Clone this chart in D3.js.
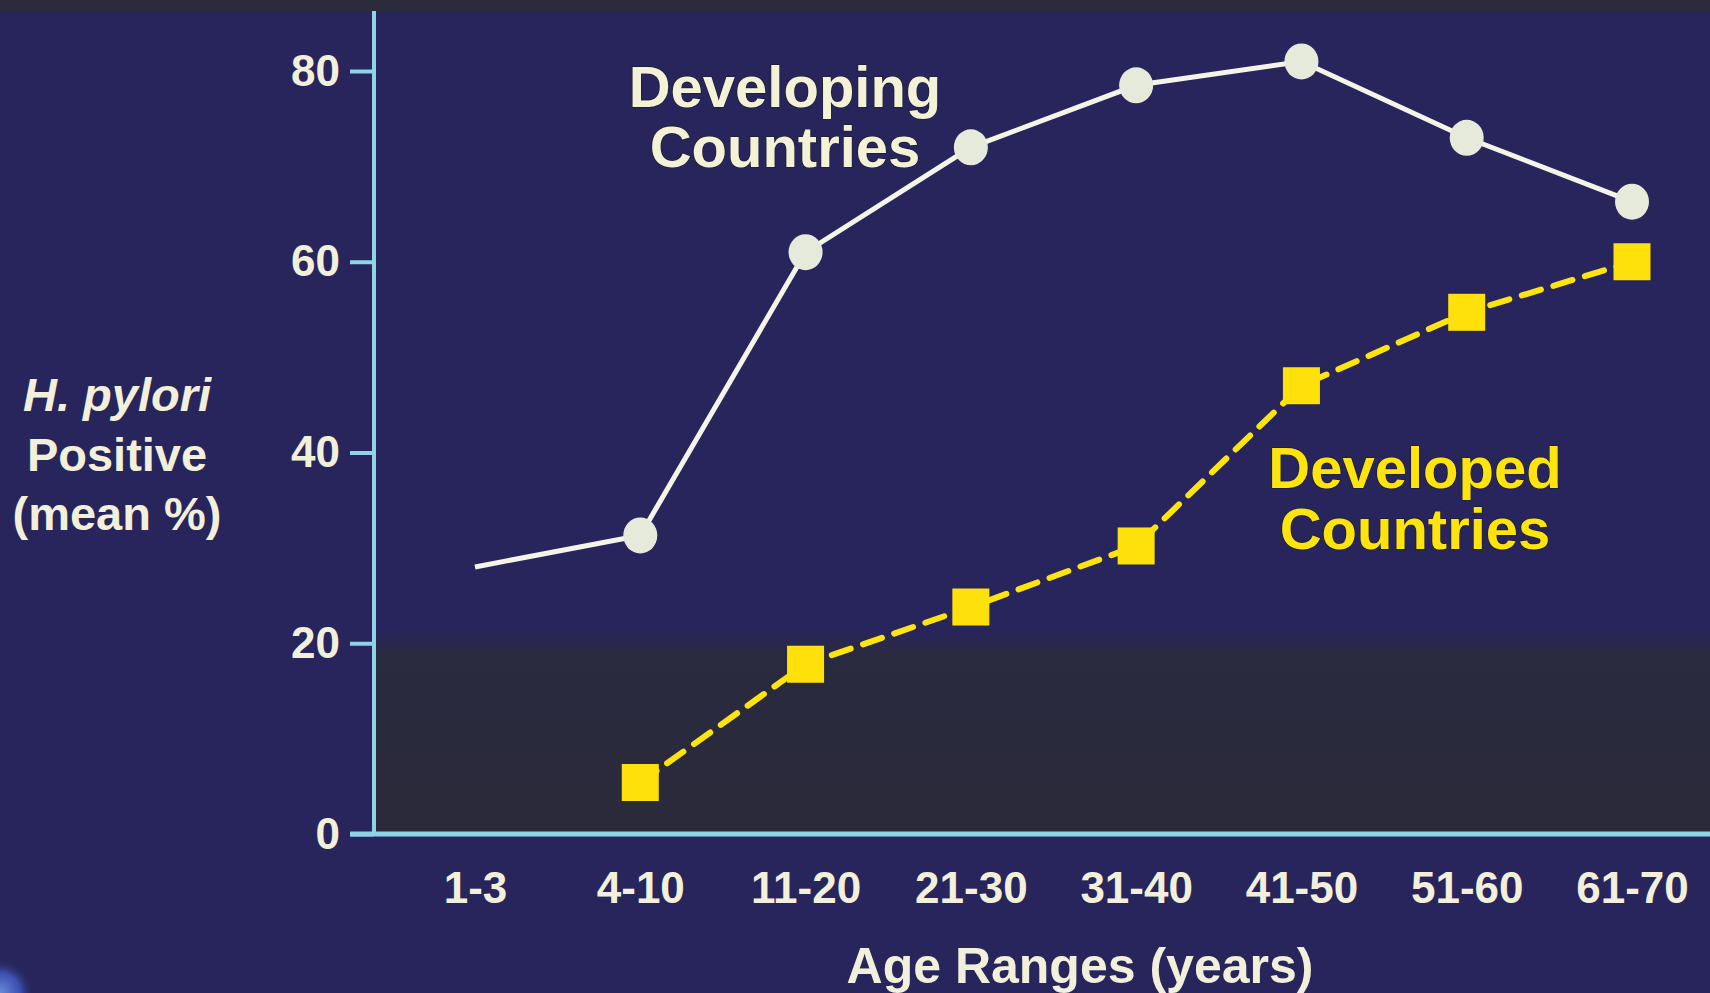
<!DOCTYPE html>
<html>
<head>
<meta charset="utf-8">
<script src="https://cdn.jsdelivr.net/npm/d3@7"></script>
<style>
  html, body { margin: 0; padding: 0; background: #27255c; overflow: hidden; }
  svg { display: block; font-family: "Liberation Sans", Arial, sans-serif; font-weight: bold; }
</style>
</head>
<body>
<svg id="chart" width="1710" height="993"></svg>
<script>
// Chart data
const ageRanges = ["1-3", "4-10", "11-20", "21-30", "31-40", "41-50", "51-60", "61-70"];
const developing = [28, 31.3, 61, 72, 78.5, 81, 73, 66.3];
const developed = [null, 5.4, 17.8, 23.8, 30.2, 47, 54.7, 60];
const yTicks = [0, 20, 40, 60, 80];

const svg = d3.select("#chart");
const W = 1710, H = 993;

// Plot frame
const plotLeft = 374, plotTop = 11, plotBottom = 834, plotRight = 1710;

const defs = svg.append("defs");

// darker lower band in the plot fades in from the navy
const band = defs.append("linearGradient").attr("id", "band").attr("x1", 0).attr("x2", 0).attr("y1", 0).attr("y2", 1);
band.append("stop").attr("offset", "0%").attr("stop-color", "#27255c");
band.append("stop").attr("offset", "12%").attr("stop-color", "#2a2a40");
band.append("stop").attr("offset", "100%").attr("stop-color", "#2a2a3a");

// Background: dark strip at top, darker lower band inside the plot
svg.append("rect").attr("x", 0).attr("y", 0).attr("width", W).attr("height", H).attr("fill", "#27255c");
svg.append("rect").attr("x", 0).attr("y", 0).attr("width", W).attr("height", 12).attr("fill", "#2b2b3b");
svg.append("rect").attr("x", plotLeft).attr("y", 630).attr("width", plotRight - plotLeft).attr("height", plotBottom - 630).attr("fill", "url(#band)");

// blurred logo fragment in corner
const rg = defs.append("radialGradient").attr("id", "logo");
rg.append("stop").attr("offset", "0%").attr("stop-color", "#6a8ad8");
rg.append("stop").attr("offset", "60%").attr("stop-color", "#3b4fb0");
rg.append("stop").attr("offset", "100%").attr("stop-color", "#27255c").attr("stop-opacity", 0);
svg.append("circle").attr("cx", 0).attr("cy", 993).attr("r", 34).attr("fill", "url(#logo)");

// Scales
const x = d3.scalePoint().domain(ageRanges).range([475, 1632]);
const y = d3.scaleLinear().domain([0, 80]).range([plotBottom, 71]);

const axisColor = "#8fd3e6";
const textColor = "#f2f0da";

// Y axis
const yAxis = d3.axisLeft(y).tickValues(yTicks).tickSize(24).tickPadding(10);
const gy = svg.append("g").attr("transform", "translate(" + plotLeft + ",0)").call(yAxis);
gy.select(".domain").remove();
gy.selectAll(".tick line").attr("stroke", axisColor).attr("stroke-width", 4);
gy.selectAll(".tick text")
  .attr("fill", textColor)
  .attr("font-size", 44)
  .attr("font-weight", "bold")
  .attr("font-family", "Liberation Sans, Arial, sans-serif");
svg.append("line")
  .attr("x1", plotLeft).attr("x2", plotLeft).attr("y1", plotTop).attr("y2", plotBottom)
  .attr("stroke", axisColor).attr("stroke-width", 4);

// X axis
const xAxis = d3.axisBottom(x).tickSize(0).tickPadding(38);
const gx = svg.append("g").attr("transform", "translate(0," + plotBottom + ")").call(xAxis);
gx.select(".domain").remove();
gx.selectAll(".tick text")
  .attr("fill", textColor)
  .attr("font-size", 44)
  .attr("font-weight", "bold")
  .attr("font-family", "Liberation Sans, Arial, sans-serif");
svg.append("line")
  .attr("x1", plotLeft - 24).attr("x2", plotRight).attr("y1", plotBottom).attr("y2", plotBottom)
  .attr("stroke", axisColor).attr("stroke-width", 5);

// Axis titles
svg.append("text")
  .attr("x", 1080).attr("y", 983)
  .attr("text-anchor", "middle")
  .attr("fill", textColor).attr("font-size", 50)
  .text("Age Ranges (years)");

const yTitle = svg.append("text").attr("text-anchor", "middle").attr("fill", textColor).attr("font-size", 47);
yTitle.append("tspan").attr("x", 117).attr("y", 411).attr("font-style", "italic").text("H. pylori");
yTitle.append("tspan").attr("x", 117).attr("y", 471).text("Positive");
yTitle.append("tspan").attr("x", 117).attr("y", 530).text("(mean %)");

// Developing countries line
const line = d3.line()
  .defined(d => d.v !== null)
  .x(d => x(d.k))
  .y(d => y(d.v));

const devData = ageRanges.map((k, i) => ({ k: k, v: developing[i] }));
const dvdData = ageRanges.map((k, i) => ({ k: k, v: developed[i] }));

svg.append("path")
  .datum(devData)
  .attr("d", line)
  .attr("fill", "none")
  .attr("stroke", "#f4f4e8")
  .attr("stroke-width", 5);

// first age range has no marker on the slide
svg.selectAll(".dev-dot")
  .data(devData.slice(1))
  .enter().append("ellipse")
  .attr("class", "dev-dot")
  .attr("cx", d => x(d.k))
  .attr("cy", d => y(d.v))
  .attr("rx", 17).attr("ry", 18)
  .attr("fill", "#e6eadb");

// Developed countries line
svg.append("path")
  .datum(dvdData)
  .attr("d", line)
  .attr("fill", "none")
  .attr("stroke", "#fde40f")
  .attr("stroke-width", 6)
  .attr("stroke-dasharray", "20 13")
  .attr("stroke-linecap", "round");

const sq = 37;
svg.selectAll(".dvd-sq")
  .data(dvdData.filter(d => d.v !== null))
  .enter().append("rect")
  .attr("class", "dvd-sq")
  .attr("x", d => x(d.k) - sq / 2)
  .attr("y", d => y(d.v) - sq / 2)
  .attr("width", sq).attr("height", sq)
  .attr("fill", "#fee10a");

// Series labels (slight dark outline like the slide)
const devLabel = svg.append("text").attr("text-anchor", "middle").attr("fill", "#f3f1d6")
  .attr("stroke", "#1e1d30").attr("stroke-width", 1.5).attr("paint-order", "stroke").attr("font-size", 58);
devLabel.append("tspan").attr("x", 785).attr("y", 107).text("Developing");
devLabel.append("tspan").attr("x", 785).attr("y", 167).text("Countries");

const dvdLabel = svg.append("text").attr("text-anchor", "middle").attr("fill", "#fde40f")
  .attr("stroke", "#1e1d30").attr("stroke-width", 1.5).attr("paint-order", "stroke").attr("font-size", 58);
dvdLabel.append("tspan").attr("x", 1415).attr("y", 488).text("Developed");
dvdLabel.append("tspan").attr("x", 1415).attr("y", 549).text("Countries");
</script>
</body>
</html>
